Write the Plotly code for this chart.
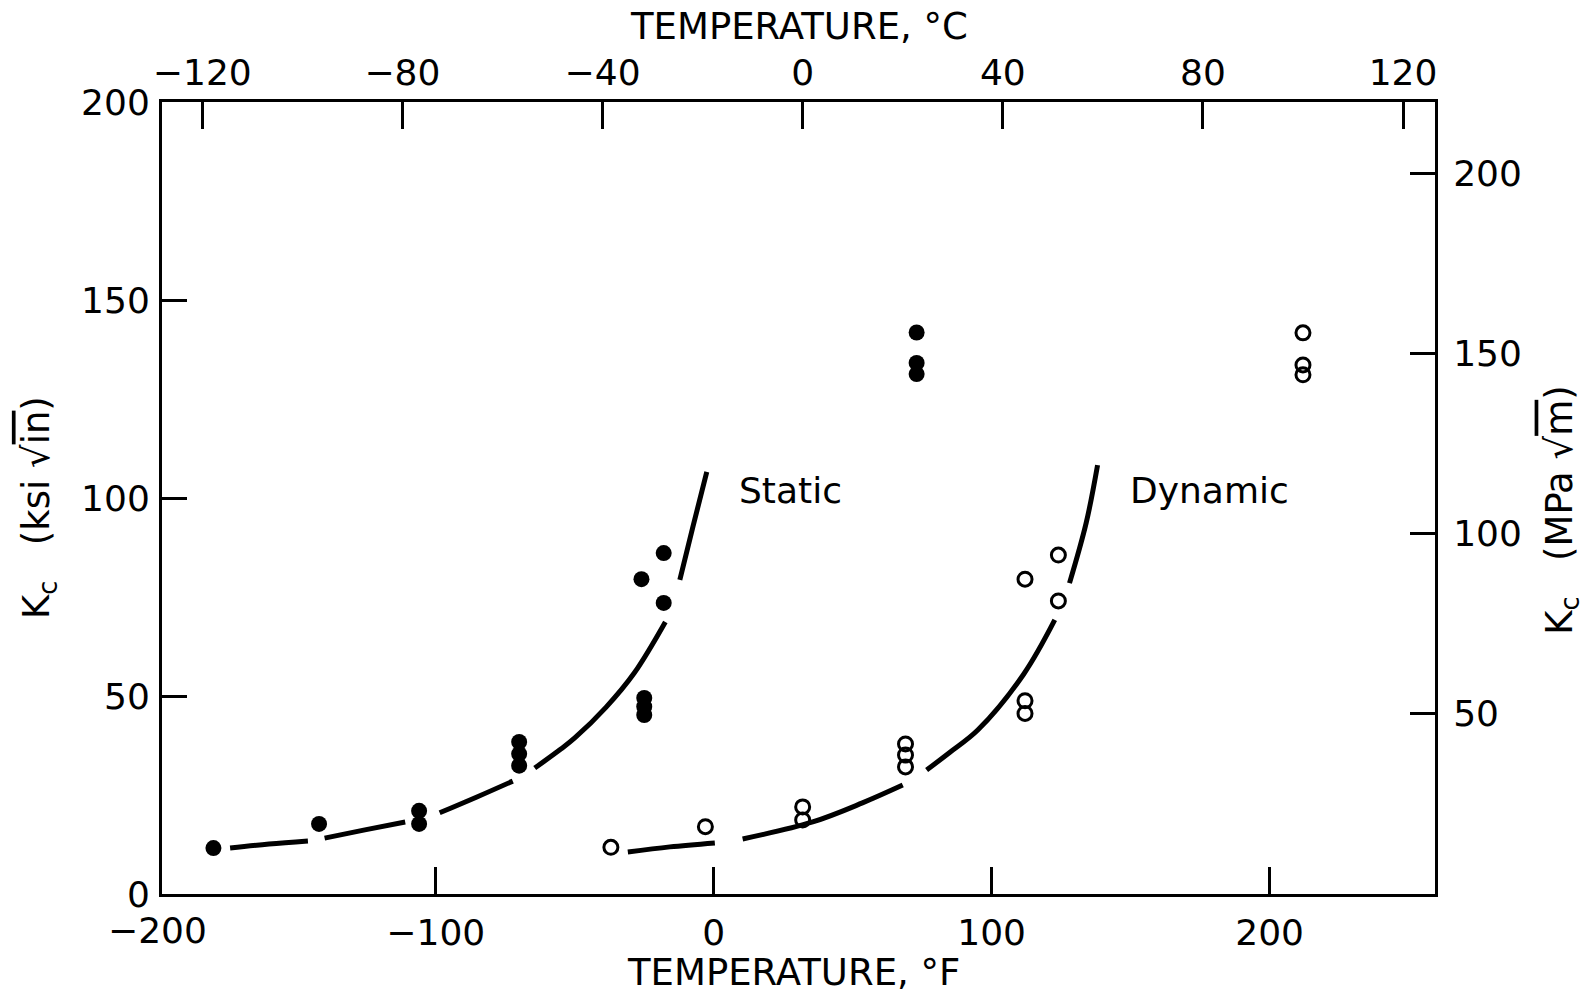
import plotly.graph_objects as go

# ---- data (temperature in deg F, Kc in ksi*sqrt(in)) ----
static_temp_F = [-180, -142, -106, -106, -70, -70, -70, -26, -18, -18, -25, -25, -25, 73, 73, 73]
static_Kc = [11.6, 17.7, 21.0, 17.7, 38.4, 35.4, 32.4, 79.5, 86.1, 73.5, 49.5, 47.3, 45.2, 141.8, 134.1, 131.3]

dynamic_temp_F = [-37, -3, 32, 32, 69, 69, 69, 112, 124, 124, 112, 112, 212, 212, 212]
dynamic_Kc = [11.8, 17.0, 22.0, 18.7, 37.9, 35.1, 32.1, 79.5, 85.6, 74.0, 48.8, 45.6, 141.7, 133.6, 131.1]

# trend curves (broken where they pass the data points)
static_curve_F = [-174, -160, -146, None, -140, -125.5, -111, None, -98.6, -85.2, -72.3, None,
                  -64.4, -55, -50, -38.7, -28.6, -17.4, None, -12.2, -7.5, -2.5]
static_curve_K = [11.6, 12.6, 13.4, None, 14.1, 16.2, 18.2, None, 20.5, 24.5, 28.5, None,
                  31.8, 36.6, 39.4, 47.2, 55.8, 68.7, None, 79.3, 92.7, 106.6]

dynamic_curve_F = [-30.9, -15.8, 0.4, None, 10.4, 35.6, 53.5, 68, None, 76.6, 85, 95, 111.5, 122.7, None,
                   128, 134, 138.1]
dynamic_curve_K = [10.6, 11.9, 12.9, None, 13.9, 18.2, 23.0, 27.5, None, 31.3, 35.8, 41.4, 55.5, 69.2, None,
                   78.5, 93.7, 108.3]

# axes
f_range = [-198.5, 259.5]
f_ticks = [-200, -100, 0, 100, 200]
c_ticks = [-120, -80, -40, 0, 40, 80, 120]
ksi_range = [0, 200]
ksi_ticks = [0, 50, 100, 150, 200]
mpa_ticks = [50, 100, 150, 200]
KSI_TO_MPA = 1.0988

c_range = [(v - 32) / 1.8 for v in f_range]
mpa_range = [v * KSI_TO_MPA for v in ksi_range]

FONT = "DejaVu Sans"
BLACK = "black"

fig = go.Figure()

fig.add_trace(go.Scatter(x=static_curve_F, y=static_curve_K, mode="lines",
                         line=dict(color=BLACK, width=5, shape="spline"),
                         connectgaps=False, showlegend=False, hoverinfo="skip"))
fig.add_trace(go.Scatter(x=dynamic_curve_F, y=dynamic_curve_K, mode="lines",
                         line=dict(color=BLACK, width=5, shape="spline"),
                         connectgaps=False, showlegend=False, hoverinfo="skip"))
fig.add_trace(go.Scatter(x=static_temp_F, y=static_Kc, mode="markers", name="Static",
                         marker=dict(symbol="circle", size=16, color=BLACK),
                         showlegend=False))
fig.add_trace(go.Scatter(x=dynamic_temp_F, y=dynamic_Kc, mode="markers", name="Dynamic",
                         marker=dict(symbol="circle-open", size=14, color=BLACK,
                                     line=dict(width=3, color=BLACK)),
                         showlegend=False))
# secondary axes (deg C on top, MPa sqrt(m) on right)
fig.add_trace(go.Scatter(x=[], y=[], xaxis="x2", yaxis="y2", showlegend=False, hoverinfo="skip"))

TICK_SIZE = 36
axis_common = dict(ticks="inside", tickwidth=3, tickcolor=BLACK, showline=True, linewidth=3,
                   linecolor=BLACK, showgrid=False, zeroline=False,
                   tickfont=dict(family=FONT, size=TICK_SIZE, color=BLACK))

fig.update_layout(
    width=1582, height=989,
    margin=dict(l=154, r=155, t=94, b=103),
    paper_bgcolor="white", plot_bgcolor="white",
    font=dict(family=FONT, color=BLACK),
    xaxis=dict(range=f_range, tickvals=f_ticks, ticklen=27, ticklabelstandoff=5, **axis_common),
    xaxis2=dict(range=c_range, tickvals=c_ticks, ticklen=27, overlaying="x", side="top",
                anchor="y", ticklabelstandoff=0, **axis_common),
    yaxis=dict(range=ksi_range, tickvals=ksi_ticks, ticklen=25, ticklabelstandoff=2, **axis_common),
    yaxis2=dict(range=mpa_range, tickvals=mpa_ticks, ticklen=25, overlaying="y", side="right",
                anchor="x", ticklabelstandoff=8, **axis_common),
)

# the -200 deg F label sits right at the left frame edge (just outside the axis range)
x_first_tick = (f_ticks[0] - f_range[0]) / (f_range[1] - f_range[0])
fig.add_annotation(text="\u2212200", x=x_first_tick, xref="paper", y=-0.0467, yref="paper",
                   showarrow=False, xanchor="center", yanchor="middle",
                   font=dict(family=FONT, size=TICK_SIZE, color=BLACK))

ann_font = dict(family=FONT, size=37, color=BLACK)
fig.add_annotation(text="TEMPERATURE, °F", xref="paper", yref="paper", x=0.4957, y=-0.0997,
                   showarrow=False, font=ann_font, xanchor="center", yanchor="middle")
fig.add_annotation(text="TEMPERATURE, °C", xref="paper", yref="paper", x=0.5004, y=1.0955,
                   showarrow=False, font=ann_font, xanchor="center", yanchor="middle")
fig.add_annotation(text="K<sub>c</sub>   (ksi √<span style='text-decoration:overline'>in</span>)",
                   xref="paper", yref="paper", x=-0.0967, y=0.4886, textangle=-90,
                   showarrow=False, font=ann_font, xanchor="center", yanchor="middle")
fig.add_annotation(text="K<sub>c</sub>   (MPa √<span style='text-decoration:overline'>m</span>)",
                   xref="paper", yref="paper", x=1.0995, y=0.4848, textangle=-90,
                   showarrow=False, font=ann_font, xanchor="center", yanchor="middle")
fig.add_annotation(text="Static", x=8.3, y=102, xref="x", yref="y", showarrow=False,
                   font=dict(family=FONT, size=36, color=BLACK), xanchor="left", yanchor="middle")
fig.add_annotation(text="Dynamic", x=149, y=102, xref="x", yref="y", showarrow=False,
                   font=dict(family=FONT, size=36, color=BLACK), xanchor="left", yanchor="middle")

fig.write_html("out.html")
